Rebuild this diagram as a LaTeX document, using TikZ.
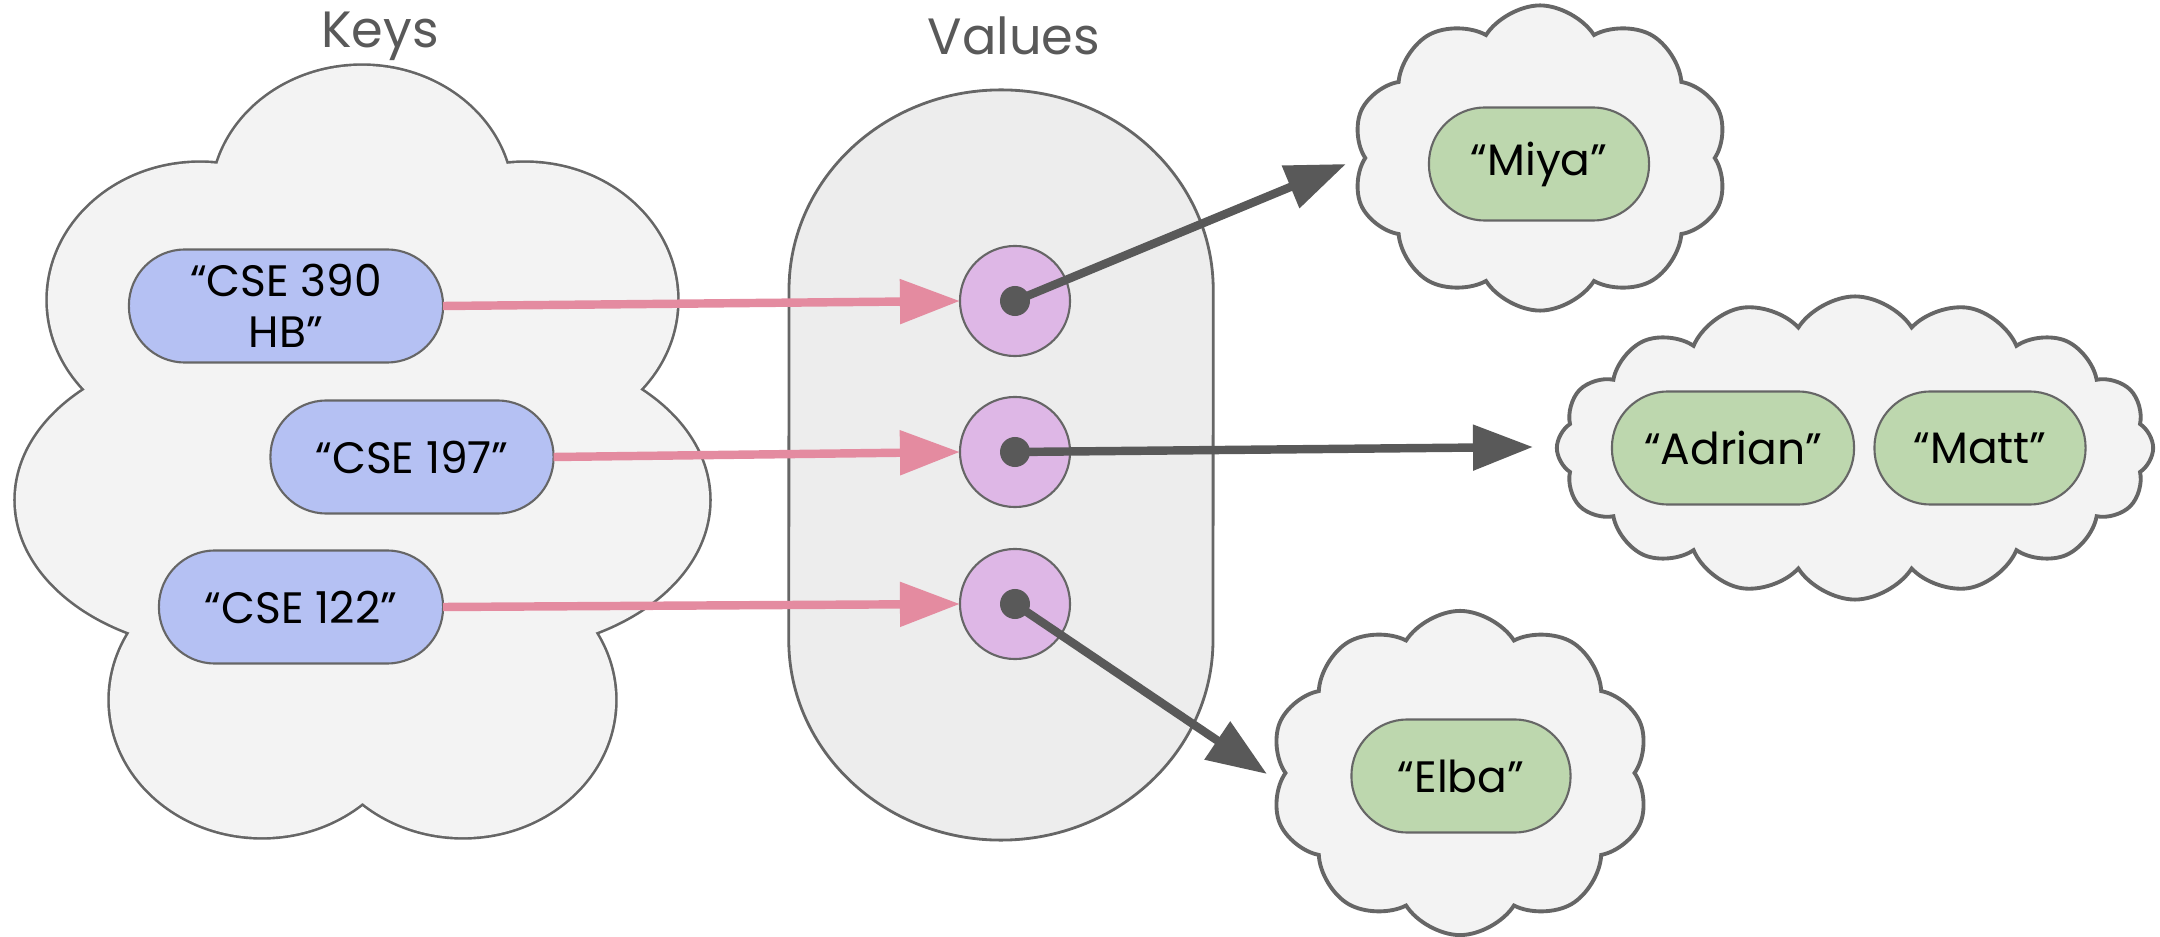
\documentclass[tikz,border=0pt]{standalone}
\usepackage{fontspec}
\setmainfont{Poppins}
\usetikzlibrary{shapes.symbols, arrows.meta}
\definecolor{cloudfill}{HTML}{F3F3F3}
\definecolor{valfill}{HTML}{EDEDED}
\definecolor{edgegray}{HTML}{666666}
\definecolor{keyfill}{HTML}{B5C1F3}
\definecolor{greenfill}{HTML}{BDD7AE}
\definecolor{purplefill}{HTML}{DEB7E6}
\definecolor{pinkline}{HTML}{E48BA0}
\definecolor{darkline}{HTML}{595959}
\definecolor{titlegray}{HTML}{595959}
\begin{document}
\begin{tikzpicture}[x=0.01cm, y=-0.01cm,
  title/.style={text=titlegray, font=\fontsize{14.5}{17}\selectfont, inner sep=0pt},
  pill/.style={draw=edgegray, line width=0.6pt, rectangle, rounded corners=5.6mm,
    minimum height=1.13cm, inner sep=0pt, outer sep=0pt, align=center,
    font=\fontsize{12.5}{14.5}\selectfont},
  keypill/.style={pill, fill=keyfill},
  valpill/.style={pill, fill=greenfill},
  slot/.style={circle, draw=edgegray, line width=0.6pt, fill=purplefill, minimum size=1.1cm, inner sep=0pt, outer sep=0pt},
  ptr/.style={circle, fill=darkline, minimum size=0.3cm, inner sep=0pt, outer sep=0pt},
  smallcloud/.style={cloud, cloud puffs=#1, cloud puff arc=115, cloud ignores aspect,
    draw=edgegray, line width=1.1pt, fill=cloudfill, inner sep=0pt, outer sep=0pt},
  pinkarrow/.style={draw=pinkline, line width=2.4pt, -{Triangle[length=6mm, width=4.3mm]}},
  darkarrow/.style={draw=darkline, line width=2.4pt, -{Triangle[length=6mm, width=4.4mm]}},
]
\useasboundingbox (0,0) rectangle (2160,937);

% ---- Keys cloud (union of lobes)
\begin{scope}
  \draw[edgegray, line width=1.5pt]
    (362,200) ellipse [x radius=1.50cm, y radius=1.34cm]
    (200,300) ellipse [x radius=1.52cm, y radius=1.37cm]
    (525,300) ellipse [x radius=1.52cm, y radius=1.37cm]
    (230,500) ellipse [x radius=2.14cm, y radius=1.50cm]
    (495,500) ellipse [x radius=2.14cm, y radius=1.50cm]
    (262,700) ellipse [x radius=1.52cm, y radius=1.37cm]
    (463,700) ellipse [x radius=1.52cm, y radius=1.37cm];
  \fill[cloudfill]
    (362,200) ellipse [x radius=1.50cm, y radius=1.34cm]
    (200,300) ellipse [x radius=1.52cm, y radius=1.37cm]
    (525,300) ellipse [x radius=1.52cm, y radius=1.37cm]
    (230,500) ellipse [x radius=2.14cm, y radius=1.50cm]
    (495,500) ellipse [x radius=2.14cm, y radius=1.50cm]
    (262,700) ellipse [x radius=1.52cm, y radius=1.37cm]
    (463,700) ellipse [x radius=1.52cm, y radius=1.37cm];
  \fill[cloudfill] (236,200) -- (488,200) -- (610,390) -- (575,627) -- (362,772)
    -- (148,624) -- (115,393) -- cycle;
\end{scope}

% ---- Values container
\draw[edgegray, line width=0.8pt, fill=valfill]
  (789,290) arc[start angle=180, end angle=0, x radius=2.12cm, y radius=2cm]
  -- (1213,640) arc[start angle=0, end angle=-180, x radius=2.12cm, y radius=2cm]
  -- cycle;

% ---- value clouds
\node[smallcloud=10, minimum width=3.76cm, minimum height=3.05cm] (cm) at (1540,158) {};
\node[smallcloud=16, minimum width=5.96cm, minimum height=3.03cm] (cam) at (1855,448) {};
\node[smallcloud=10, minimum width=3.79cm, minimum height=3.24cm] (ce) at (1460,773) {};

% ---- titles
\node[title] (tk) at (380,36) {Keys};
\node[title] (tv) at (1014,36) {Values};

% ---- keys
\node[keypill, minimum width=3.14cm] (k1) at (286,306) {“CSE 390\\HB”};
\node[keypill, minimum width=2.83cm] (k2) at (412,457) {“CSE 197”};
\node[keypill, minimum width=2.84cm] (k3) at (301,607) {“CSE 122”};

% ---- slots
\node[slot] (v1) at (1015,301) {};
\node[slot] (v2) at (1015,452) {};
\node[slot] (v3) at (1015,604) {};

% ---- values
\node[valpill, minimum width=2.20cm] (miya) at (1539,164) {“Miya”};
\node[valpill, minimum width=2.42cm] (adrian) at (1733,448) {“Adrian”};
\node[valpill, minimum width=2.11cm] (matt) at (1980,448) {“Matt”};
\node[valpill, minimum width=2.19cm] (elba) at (1461,776) {“Elba”};

% ---- arrow ends
\coordinate (tm) at (1346,164);
\coordinate (tam) at (1533,447);
\coordinate (te) at (1267,774);

% ---- pink arrows
\draw[pinkarrow] (k1.east) -- (v1.west);
\draw[pinkarrow] (k2.east) -- (v2.west);
\draw[pinkarrow] (k3.east) -- (v3.west);

% ---- dark arrows
\draw[darkarrow] (v1.center) -- (tm);
\draw[darkarrow] (v2.center) -- (tam);
\draw[darkarrow] (v3.center) -- (te);

\node[ptr] (d1) at (v1.center) {};
\node[ptr] (d2) at (v2.center) {};
\node[ptr] (d3) at (v3.center) {};
\end{tikzpicture}
\end{document}
